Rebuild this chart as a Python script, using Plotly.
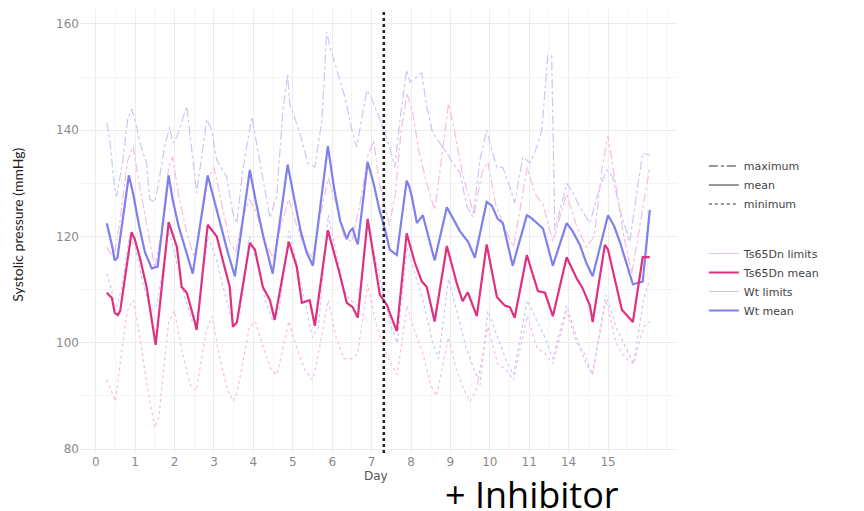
import plotly.graph_objects as go

# ---------------- data (x = plotted day position, y = mmHg) ----------------
X_TICK_POS = list(range(14))
X_TICK_LABELS = ["0", "1", "2", "3", "4", "5", "6", "7", "8", "9", "10", "11", "14", "15"]
INHIBITOR_POS = 7.31

wt_mean_x = [0.28, 0.35, 0.42, 0.48, 0.55, 0.84, 0.95, 1.1, 1.25, 1.42, 1.57, 1.85, 1.95, 2.1, 2.3, 2.46,
             2.84, 3.0, 3.2, 3.35, 3.53, 3.91, 4.05, 4.25, 4.49, 4.87, 5.0, 5.2, 5.35, 5.51, 5.89, 6.05,
             6.2, 6.37, 6.45, 6.52, 6.6, 6.65, 6.9, 7.05, 7.2, 7.35, 7.46, 7.64, 7.89, 7.95, 8.02, 8.15,
             8.3, 8.45, 8.6, 8.91, 9.05, 9.24, 9.45, 9.62, 9.92, 10.05, 10.2, 10.33, 10.58, 10.94, 11.05,
             11.19, 11.35, 11.6, 11.95, 12.1, 12.28, 12.45, 12.61, 13.0, 13.15, 13.3, 13.63, 13.88, 14.06]
wt_mean_y = [122.5, 120.5, 118.0, 115.5, 116.0, 131.5, 128.0, 122.0, 117.0, 114.0, 114.3, 131.5, 127.0, 122.0,
             117.0, 113.0, 131.5, 127.0, 121.0, 117.0, 112.5, 132.5, 127.0, 120.0, 113.0, 133.5, 128.5, 121.0,
             117.0, 114.5, 137.0, 129.0, 123.0, 119.5, 121.0, 121.5, 119.5, 118.5, 134.0, 130.0, 125.0, 121.0,
             117.5, 116.5, 130.5, 129.5, 127.5, 122.5, 124.0, 120.0, 115.5, 125.5, 123.5, 121.0, 119.0, 116.0,
             126.5, 125.8, 123.3, 122.5, 114.5, 124.0, 123.5, 122.5, 121.5, 114.5, 122.5, 121.0, 118.5, 115.0,
             112.5, 124.0, 122.0, 119.0, 111.0, 111.5, 125.0]

ts_mean_x = [0.28, 0.41, 0.48, 0.56, 0.62, 0.91, 0.99, 1.12, 1.29, 1.42, 1.52, 1.85, 2.06, 2.18, 2.31, 2.51,
             2.56, 2.84, 3.07, 3.22, 3.4, 3.48, 3.58, 3.91, 4.04, 4.24, 4.42, 4.54, 4.9, 5.1, 5.23, 5.43,
             5.56, 5.89, 6.19, 6.37, 6.52, 6.65, 6.9, 7.21, 7.39, 7.46, 7.64, 7.89, 8.1, 8.27, 8.4, 8.6,
             8.91, 9.16, 9.31, 9.44, 9.67, 9.92, 10.18, 10.3, 10.38, 10.51, 10.63, 10.94, 11.22, 11.4, 11.6,
             11.95, 12.21, 12.34, 12.54, 12.61, 12.92, 13.0, 13.35, 13.63, 13.88, 14.06]
ts_mean_y = [109.4, 108.4, 105.6, 105.2, 106.0, 120.8, 119.5, 116.0, 110.5, 104.8, 99.6, 122.7, 118.0, 110.5,
             109.4, 104.0, 102.4, 122.2, 120.0, 115.6, 110.5, 103.0, 103.8, 118.8, 117.5, 110.5, 108.0, 104.3,
             119.0, 114.3, 107.5, 108.0, 103.2, 121.2, 113.0, 107.5, 106.7, 104.7, 123.3, 109.0, 107.1, 105.6,
             102.2, 120.6, 115.0, 111.6, 110.5, 104.0, 118.2, 111.2, 107.8, 109.5, 105.0, 118.5, 108.6, 107.6,
             107.0, 106.7, 104.7, 116.5, 109.7, 109.4, 105.0, 116.1, 112.0, 110.5, 107.0, 103.9, 118.4, 117.5,
             106.2, 103.9, 116.1, 116.1]

wt_max_x = [0.28, 0.36, 0.48, 0.53, 0.69, 0.81, 0.91, 1.04, 1.12, 1.29, 1.37, 1.5, 1.55, 1.75, 1.88, 1.95,
            2.06, 2.31, 2.56, 2.82, 2.94, 3.07, 3.32, 3.48, 3.58, 3.73, 3.96, 4.16, 4.42, 4.59, 4.75, 4.87,
            4.92, 5.18, 5.38, 5.56, 5.74, 5.86, 5.94, 6.12, 6.32, 6.5, 6.62, 6.88, 7.0, 7.21, 7.46, 7.59,
            7.72, 7.89, 7.97, 8.15, 8.27, 8.4, 8.55, 8.73, 8.91, 9.06, 9.24, 9.42, 9.57, 9.75, 9.92, 10.0,
            10.18, 10.33, 10.51, 10.63, 10.84, 11.02, 11.19, 11.32, 11.47, 11.57, 11.65, 11.85, 11.95,
            12.11, 12.28, 12.54, 12.79, 12.97, 13.12, 13.3, 13.55, 13.73, 13.88, 14.06]
wt_max_y = [141.4, 138.0, 129.0, 127.5, 134.4, 142.0, 144.0, 140.6, 137.6, 133.8, 127.0, 126.5, 128.2, 137.0,
            140.6, 137.6, 138.8, 144.5, 128.2, 142.0, 140.0, 134.4, 131.2, 124.4, 122.5, 132.5, 142.5, 134.4,
            123.5, 127.5, 143.8, 150.5, 145.0, 139.5, 133.8, 133.0, 142.0, 158.5, 155.7, 151.3, 146.3, 140.0,
            136.8, 147.5, 146.0, 142.0, 136.8, 133.0, 142.0, 151.3, 149.0, 150.0, 150.8, 144.4, 139.5, 137.6,
            135.7, 133.8, 132.0, 125.6, 123.7, 134.4, 140.0, 137.6, 133.0, 133.0, 129.3, 126.3, 135.0, 133.8,
            136.8, 140.0, 154.0, 154.0, 121.2, 126.9, 130.0, 128.2, 125.6, 122.5, 129.3, 132.5, 131.2, 125.0,
            119.0, 128.2, 135.7, 135.3]

wt_min_x = [0.28, 0.4, 0.5, 0.65, 0.85, 1.0, 1.2, 1.4, 1.55, 1.85, 2.0, 2.2, 2.45, 2.6, 2.85, 3.05, 3.25,
            3.5, 3.65, 3.9, 4.1, 4.3, 4.5, 4.65, 4.9, 5.1, 5.3, 5.5, 5.65, 5.9, 6.1, 6.3, 6.45, 6.65, 6.9,
            7.1, 7.3, 7.5, 7.65, 7.9, 8.1, 8.3, 8.55, 8.7, 8.95, 9.2, 9.4, 9.6, 9.75, 9.95, 10.2, 10.4,
            10.6, 10.95, 11.2, 11.4, 11.6, 11.95, 12.2, 12.45, 12.6, 12.95, 13.2, 13.45, 13.65, 13.9, 14.06]
wt_min_y = [113, 110, 106, 110, 120, 118, 111, 106, 107, 121, 117, 110, 104, 106, 120, 116, 110, 103, 105,
            120, 115, 108, 104, 106, 121, 115, 108, 101, 103, 124, 117, 110, 108, 107, 122, 116, 109, 103,
            100, 118, 113, 108, 100, 97, 112, 105, 99, 95, 92, 106, 101, 97, 94, 108, 104, 101, 97, 107, 101,
            96, 94, 109, 103, 99, 96, 108, 112]

ts_max_x = [0.28, 0.45, 0.6, 0.8, 0.95, 1.1, 1.3, 1.5, 1.65, 1.85, 1.95, 2.1, 2.3, 2.5, 2.7, 2.85, 3.0, 3.2,
            3.4, 3.55, 3.75, 3.9, 4.05, 4.3, 4.5, 4.7, 4.9, 5.1, 5.3, 5.5, 5.7, 5.9, 6.1, 6.3, 6.5, 6.7,
            6.9, 7.05, 7.2, 7.45, 7.6, 7.75, 7.9, 8.05, 8.2, 8.4, 8.6, 8.8, 8.95, 9.1, 9.3, 9.45, 9.6, 9.8,
            9.95, 10.15, 10.35, 10.6, 10.8, 10.95, 11.15, 11.35, 11.6, 11.8, 11.95, 12.2, 12.45, 12.65,
            12.85, 13.0, 13.15, 13.4, 13.6, 13.8, 14.06]
ts_max_y = [118, 116, 122, 134, 137, 130, 122, 114, 120, 133, 135, 128, 121, 116, 124, 131, 133, 126, 119,
            117, 124, 127, 125, 119, 116, 122, 127, 122, 118, 116, 124, 131, 126, 120, 119, 126, 135, 138,
            130, 122, 128, 140, 147, 143, 136, 130, 125, 136, 145, 140, 132, 128, 124, 132, 134, 126, 122,
            118, 127, 133, 128, 126, 119, 124, 128, 122, 118, 120, 133, 139, 132, 120, 113, 122, 133]

ts_min_x = [0.28, 0.4, 0.5, 0.6, 0.8, 0.95, 1.1, 1.3, 1.5, 1.6, 1.85, 2.0, 2.2, 2.4, 2.55, 2.8, 2.95, 3.15,
            3.35, 3.5, 3.6, 3.9, 4.05, 4.3, 4.45, 4.6, 4.9, 5.1, 5.3, 5.5, 5.6, 5.9, 6.1, 6.3, 6.5, 6.65,
            6.9, 7.1, 7.3, 7.5, 7.65, 7.9, 8.1, 8.3, 8.5, 8.65, 8.95, 9.15, 9.35, 9.5, 9.65, 9.95, 10.2,
            10.4, 10.6, 10.95, 11.2, 11.4, 11.6, 11.95, 12.2, 12.4, 12.6, 12.95, 13.2, 13.45, 13.65, 13.9,
            14.06]
ts_min_y = [93, 91, 89, 95, 106, 108, 102, 92, 84, 86, 104, 106, 98, 92, 91, 102, 105, 97, 91, 89, 91, 103,
            104, 98, 95, 94, 104, 99, 95, 93, 96, 108, 101, 97, 97, 98, 111, 104, 99, 96, 94, 107, 102, 98,
            92, 90, 101, 95, 91, 89, 91, 103, 96, 95, 93, 105, 99, 98, 96, 106, 100, 98, 94, 108, 100, 97,
            96, 103, 104]

# ---------------- styling ----------------
WT_MEAN_C = "#7f7fef"
TS_MEAN_C = "#e0307f"
WT_LIM_C = "#c8c8f4"
TS_LIM_C = "#f6bde4"

fig = go.Figure()

# limits (drawn first, behind)
fig.add_trace(go.Scatter(x=wt_max_x, y=wt_max_y, mode="lines", line=dict(color=WT_LIM_C, width=1.2, dash="dashdot"),
                         showlegend=False, hoverinfo="skip"))
fig.add_trace(go.Scatter(x=wt_min_x, y=wt_min_y, mode="lines", line=dict(color=WT_LIM_C, width=1.2, dash="dot"),
                         showlegend=False, hoverinfo="skip"))
fig.add_trace(go.Scatter(x=ts_max_x, y=ts_max_y, mode="lines", line=dict(color=TS_LIM_C, width=1.2, dash="dashdot"),
                         showlegend=False, hoverinfo="skip"))
fig.add_trace(go.Scatter(x=ts_min_x, y=ts_min_y, mode="lines", line=dict(color=TS_LIM_C, width=1.2, dash="dot"),
                         showlegend=False, hoverinfo="skip"))
# means
fig.add_trace(go.Scatter(x=wt_mean_x, y=wt_mean_y, mode="lines", line=dict(color=WT_MEAN_C, width=2.2),
                         showlegend=False))
fig.add_trace(go.Scatter(x=ts_mean_x, y=ts_mean_y, mode="lines", line=dict(color=TS_MEAN_C, width=2.2),
                         showlegend=False))

# legend 1: linetype
for name, dash in [("maximum", "dashdot"), ("mean", "solid"), ("minimum", "dot")]:
    fig.add_trace(go.Scatter(x=[None], y=[None], mode="lines", name=name,
                             line=dict(color="#333333", width=1.2, dash=dash), legend="legend"))
# legend 2: colour
for name, col, w in [("Ts65Dn limits", TS_LIM_C, 1.2), ("Ts65Dn mean", TS_MEAN_C, 2),
                     ("Wt limits", WT_LIM_C, 1.2), ("Wt mean", WT_MEAN_C, 2)]:
    fig.add_trace(go.Scatter(x=[None], y=[None], mode="lines", name=name,
                             line=dict(color=col, width=w), legend="legend2"))

fig.add_vline(x=INHIBITOR_POS, line=dict(color="#222222", width=2.5, dash="dot"))

LEG_FONT = dict(family="DejaVu Sans", size=11, color="#444444")
fig.update_layout(
    width=864, height=511,
    margin=dict(l=80, r=187, t=9, b=58),
    paper_bgcolor="white", plot_bgcolor="white",
    xaxis=dict(range=[-0.4, 14.75], tickvals=X_TICK_POS, ticktext=X_TICK_LABELS,
               showgrid=True, gridcolor="#ececec", gridwidth=1, zeroline=False, showline=False,
               ticks="", tickfont=dict(family="DejaVu Sans", size=12, color="#8a8a8a"),
               minor=dict(dtick=0.5, tick0=0, showgrid=True, gridcolor="#f5f5f5")),
    yaxis=dict(range=[79.25, 162.8], tickvals=[80, 100, 120, 140, 160],
               showgrid=True, gridcolor="#ececec", gridwidth=1, zeroline=False, showline=False,
               ticks="", tickfont=dict(family="DejaVu Sans", size=12, color="#8a8a8a"),
               minor=dict(dtick=10, tick0=80, showgrid=True, gridcolor="#f5f5f5")),
    legend=dict(x=1.045, y=0.679, xanchor="left", yanchor="top", font=LEG_FONT, bgcolor="rgba(0,0,0,0)",
                tracegroupgap=0, itemwidth=30),
    legend2=dict(x=1.045, y=0.482, xanchor="left", yanchor="top", font=LEG_FONT, bgcolor="rgba(0,0,0,0)",
                 tracegroupgap=0, itemwidth=30),
    showlegend=True,
)

fig.add_annotation(text="Day", xref="paper", yref="paper", x=0.495, y=-0.052, xanchor="center", yanchor="middle",
                   showarrow=False, font=dict(family="DejaVu Sans", size=12, color="#555555"))
fig.add_annotation(text="Systolic pressure (mmHg)", xref="paper", yref="paper", x=-0.105, y=0.515,
                   xanchor="center", yanchor="middle", textangle=-90, showarrow=False,
                   font=dict(family="Lato", size=14, color="#222222"))
fig.add_annotation(text="+ Inhibitor", xref="paper", yref="paper", x=0.757, y=-0.034, xanchor="center",
                   yanchor="top", showarrow=False, font=dict(family="Open Sans", size=36, color="#000000"))

fig.write_html("out.html")
